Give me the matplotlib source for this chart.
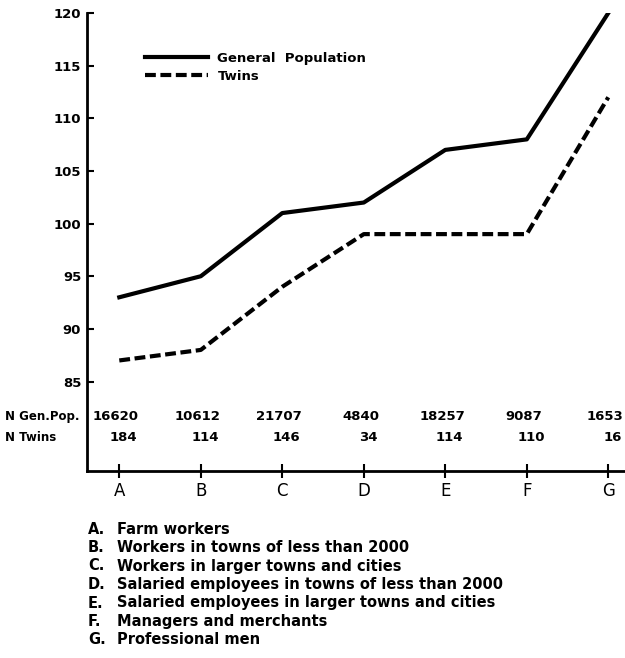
import numpy as np
import matplotlib.pyplot as plt

groups = ['A', 'B', 'C', 'D', 'E', 'F', 'G']
general = [93, 95, 101, 102, 107, 108, 120]
twins = [87, 88, 94, 99, 99, 99, 112]
n_gen = ['16620', '10612', '21707', '4840', '18257', '9087', '1653']
n_twins = ['184', '114', '146', '34', '114', '110', '16']
descriptions = ['Farm workers',
                'Workers in towns of less than 2000',
                'Workers in larger towns and cities',
                'Salaried employees in towns of less than 2000',
                'Salaried employees in larger towns and cities',
                'Managers and merchants',
                'Professional men']

plt.rcParams['font.family'] = 'DejaVu Sans'

fig = plt.figure(figsize=(6.25, 6.58), dpi=100)
ax = fig.add_axes([0.1387, 0.2842, 0.8613, 0.696])

x = np.arange(len(groups))
ax.plot(x, general, color='black', lw=3, label='General  Population')
ax.plot(x, twins, color='black', lw=3, ls=(0, (2.6, 1.1)), label='Twins')

ax.set_xlim(-0.40, 6.205)
ax.set_ylim(76.5, 120)
ax.set_yticks(range(85, 121, 5))
ax.set_xticks(x)
ax.set_xticklabels(groups, fontsize=12)
ax.tick_params(axis='y', direction='in', length=5, width=1.5, labelsize=9.5, pad=4)
ax.tick_params(axis='x', direction='inout', length=10, width=1.5, pad=3)
for lab in ax.get_yticklabels():
    lab.set_fontweight('bold')
for s in ['top', 'right']:
    ax.spines[s].set_visible(False)
ax.spines['left'].set_linewidth(2)
ax.spines['bottom'].set_linewidth(2)

# sample sizes under the curves
for i in x:
    ax.text(i - 0.04, 0.118, n_gen[i], transform=ax.get_xaxis_transform(),
            ha='center', va='center', fontsize=9.5, fontweight='bold')
    ax.text(i + 0.05, 0.073, n_twins[i], transform=ax.get_xaxis_transform(),
            ha='center', va='center', fontsize=9.5, fontweight='bold')
ax.text(-0.152, 0.118, 'N Gen.Pop.', transform=ax.transAxes, va='center',
        fontsize=8.5, fontweight='bold')
ax.text(-0.152, 0.073, 'N Twins', transform=ax.transAxes, va='center',
        fontsize=8.5, fontweight='bold')

ax.legend(loc='upper left', bbox_to_anchor=(0.108, 0.915), frameon=False,
          borderpad=0, borderaxespad=0, handlelength=4.8, handletextpad=0.7,
          labelspacing=0.35, prop={'size': 9.5, 'weight': 'bold'})

for i, d in enumerate(descriptions):
    y = 1 - (529 + 18.5 * i) / 658
    fig.text(88 / 625, y, groups[i] + '.', va='center', fontsize=10.5, fontweight='bold')
    fig.text(117 / 625, y, d, va='center', fontsize=10.5, fontweight='bold')

fig.savefig('out.png', dpi=100)
